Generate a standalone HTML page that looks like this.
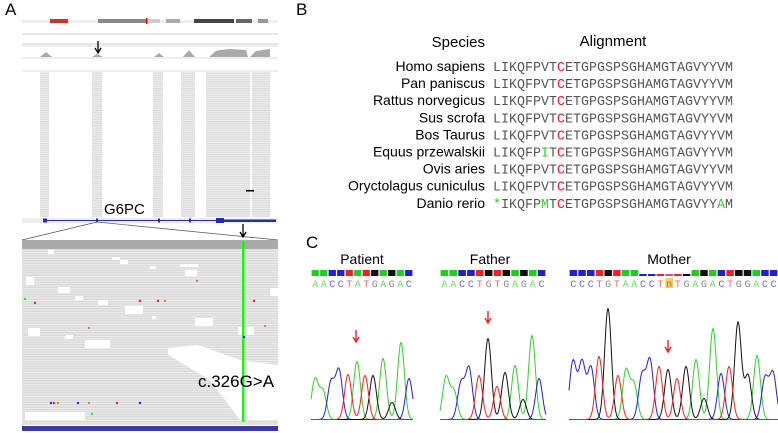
<!DOCTYPE html>
<html><head><meta charset="utf-8"><style>
html,body{margin:0;padding:0;background:#fff;}
svg{display:block;font-family:"Liberation Sans",Arial,sans-serif;}
</style></head><body>
<svg id="fig" width="778" height="433" viewBox="0 0 778 433" xmlns="http://www.w3.org/2000/svg">
<defs>
<pattern id="reads" width="4" height="2.2" patternUnits="userSpaceOnUse">
<rect width="4" height="2.2" fill="#eeeeee"/><rect width="4" height="1.1" fill="#dadada"/>
</pattern>
<pattern id="reads2" width="6" height="2.4" patternUnits="userSpaceOnUse">
<rect width="6" height="2.4" fill="#dadada"/><rect width="6" height="0.8" fill="#f0f0f0"/>
</pattern>
</defs>
<!-- Panel A -->
<text x="5" y="15" font-size="17">A</text>
<g>
<rect x="22" y="20" width="256" height="3" fill="#eee"/>
<rect x="50" y="19" width="18" height="4" fill="#c33"/>
<rect x="98" y="19" width="48" height="4" fill="#888"/>
<rect x="146" y="19" width="14" height="4" fill="#ccc"/>
<rect x="166" y="19" width="14" height="4" fill="#aaa"/>
<rect x="194" y="19" width="40" height="4" fill="#444"/>
<rect x="236" y="19" width="16" height="4" fill="#666"/>
<rect x="258" y="19" width="10" height="4" fill="#999"/>
<rect x="146" y="18" width="1.5" height="6" fill="#e00"/>
</g>
<g stroke="#999" stroke-width="0.6">
<line x1="22" y1="34" x2="278" y2="34"/>
<line x1="22" y1="44" x2="278" y2="44"/>
<line x1="22" y1="46" x2="278" y2="46" stroke="#bbb"/>
</g>
<g fill="#a9a9a9">
<path d="M40 57 L46 52 L52 57Z"/><path d="M92 57 L97 54 L103 57Z"/><path d="M154 57 L159 53 L164 57Z"/><path d="M183 57 L189 50 L195 57Z"/>
<path d="M209 57 L216 51 L220 50 L230 49 L246 50 L248 57Z"/><path d="M250 57 L256 51 L270 49 L270 57Z"/>
</g>
<line x1="22" y1="58" x2="278" y2="58" stroke="#ddd"/>
<line x1="22" y1="71" x2="278" y2="71" stroke="#ddd"/>
<path d="M98 41 L98 52 M95 48 L98 53 L101 48" stroke="#000" stroke-width="1.3" fill="none"/>
<g>
<rect x="40" y="72" width="9" height="145" fill="url(#reads)"/>
<rect x="92" y="72" width="10" height="145" fill="url(#reads)"/>
<rect x="153" y="72" width="10" height="145" fill="url(#reads)"/>
<rect x="181" y="72" width="14" height="145" fill="url(#reads)"/>
<rect x="206" y="72" width="44" height="145" fill="url(#reads)"/>
<rect x="252" y="72" width="18" height="145" fill="url(#reads)"/>
<rect x="246" y="190" width="8" height="1.5" fill="#000"/>
</g>
<text x="104" y="214" font-size="15">G6PC</text>
<g fill="#1f2fb0">
<rect x="22" y="218" width="256" height="5" fill="#eee"/>
<line x1="43" y1="220.5" x2="276" y2="220.5" stroke="#1f2fb0" stroke-width="1"/>
<rect x="43" y="218.5" width="4" height="4"/><rect x="96" y="218.5" width="2" height="4"/><rect x="158" y="218.5" width="2" height="4"/><rect x="189" y="218.5" width="2" height="4"/><rect x="216" y="218" width="8" height="5"/><rect x="224" y="219.5" width="52" height="2.5"/>
</g>
<path d="M97 222 L22 240 M97 222 L278 240" stroke="#555" stroke-width="0.7" fill="none"/>
<g>
<rect x="22" y="240" width="256" height="185" fill="url(#reads2)"/>
<rect x="22" y="240" width="256" height="9" fill="#aaa"/>
<g fill="#fff">
<rect x="48" y="250" width="6" height="4"/><rect x="112" y="257" width="8" height="3"/><rect x="120" y="260" width="8" height="4"/><rect x="180" y="264" width="18" height="3"/><rect x="150" y="266" width="6" height="3"/><rect x="185" y="270" width="12" height="6"/>
<rect x="26" y="277" width="8" height="8"/><rect x="58" y="287" width="12" height="6"/><rect x="75" y="296" width="8" height="4"/><rect x="98" y="300" width="10" height="5"/>
<rect x="125" y="306" width="18" height="8"/><rect x="152" y="316" width="4" height="3"/><rect x="195" y="318" width="18" height="8"/><rect x="270" y="288" width="8" height="8"/>
<rect x="28" y="328" width="12" height="8"/><rect x="65" y="335" width="8" height="4"/><rect x="85" y="340" width="25" height="8"/><rect x="238" y="327" width="16" height="8"/>
<path d="M168 348 L198 345 L240 360 L278 365 L278 420 L240 420 L210 380 L190 368 L168 355Z"/>
<rect x="25" y="412" width="60" height="8"/>
</g>
<rect x="242" y="241" width="2.5" height="184" fill="#2e2"/>
<g>
<circle cx="25" cy="299" r="1.2" fill="#2e2"/><circle cx="35" cy="303" r="1.2" fill="#e22"/><circle cx="140" cy="301" r="1.2" fill="#e22"/><circle cx="158" cy="301" r="1.2" fill="#e22"/><circle cx="165" cy="301" r="1.2" fill="#c84"/><circle cx="197" cy="281" r="1.2" fill="#c84"/><circle cx="254" cy="301" r="1.2" fill="#e22"/><circle cx="89" cy="328" r="1.2" fill="#c84"/><circle cx="265" cy="326" r="1.2" fill="#c84"/><circle cx="244" cy="337" r="1.2" fill="#22e"/>
<circle cx="51" cy="403" r="1.2" fill="#22e"/><circle cx="54" cy="403" r="1.2" fill="#e22"/><circle cx="58" cy="403" r="1.2" fill="#c84"/><circle cx="78" cy="403" r="1.2" fill="#22e"/><circle cx="89" cy="403" r="1.2" fill="#c84"/><circle cx="117" cy="403" r="1.2" fill="#e22"/><circle cx="140" cy="403" r="1.2" fill="#22e"/><circle cx="92" cy="414" r="1.2" fill="#2e2"/>
</g>
<rect x="22" y="422" width="256" height="3" fill="#e8e2d0"/>
<rect x="22" y="426" width="256" height="5" fill="#3a3aa0"/>
</g>
<path d="M243 224 L243 236 M240 232 L243 237 L246 232" stroke="#000" stroke-width="1.3" fill="none"/>
<text x="198" y="387" font-size="17">c.326G&gt;A</text>

<!-- Panel B -->
<text x="296" y="15" font-size="17">B</text>
<text x="485" y="47" font-size="15" text-anchor="end">Species</text>
<text x="613" y="46" font-size="15" text-anchor="middle">Alignment</text>
<g id="align"></g>

<!-- Panel C -->
<text x="306" y="248" font-size="17">C</text>
<text x="362" y="264" font-size="14" text-anchor="middle">Patient</text>
<text x="490" y="264" font-size="14" text-anchor="middle">Father</text>
<text x="669" y="264" font-size="14" text-anchor="middle">Mother</text>
<g id="chrom"></g>
</svg>
<script>
// Alignment data
const species = ["Homo sapiens","Pan paniscus","Rattus norvegicus","Sus scrofa","Bos Taurus","Equus przewalskii","Ovis aries","Oryctolagus cuniculus","Danio rerio"];
const sequences = ["LIKQFPVTCETGPGSPSGHAMGTAGVYYVM","LIKQFPVTCETGPGSPSGHAMGTAGVYYVM","LIKQFPVTCETGPGSPSGHAMGTAGVYYVM","LIKQFPVTCETGPGSPSGHAMGTAGVYYVM","LIKQFPVTCETGPGSPSGHAMGTAGVYYVM","LIKQFPITCETGPGSPSGHAMGTAGVYYVM","LIKQFPVTCETGPGSPSGHAMGTAGVYYVM","LIKQFPVTCETGPGSPSGHAMGTAGVYYVM","*IKQFPMTCETGPGSPSGHAMGTAGVYYAM"];
const NS="http://www.w3.org/2000/svg";
const ag=document.getElementById('align');
species.forEach((sp,i)=>{
  const y=71+i*17.1;
  const t=document.createElementNS(NS,'text');
  
  
  t.setAttribute('x',485);t.setAttribute('y',y);t.setAttribute('font-size','14');t.setAttribute('text-anchor','end');
  t.textContent=sp;ag.appendChild(t);
  const s=document.createElementNS(NS,'text');
  
  
  s.setAttribute('x',493);s.setAttribute('y',y);s.setAttribute('font-size','13.5');
  s.setAttribute('font-family','"Liberation Mono","DejaVu Sans Mono",monospace');
  s.setAttribute('textLength','240');s.setAttribute('lengthAdjust','spacingAndGlyphs');
  const ref=sequences[0];
  [...sequences[i]].forEach((c,j)=>{
    const ts=document.createElementNS(NS,'tspan');
    let col='#555';
    if(j===8) col='#e0201a'; else if(i>0 && c!==ref[j]) col='#3c3';
    ts.setAttribute('fill',col);ts.textContent=c;s.appendChild(ts);
  });
  ag.appendChild(s);
});

// Chromatogram data
const baseColors={A:'#2c2',C:'#22c',G:'#111',T:'#e22',n:'#c4c'};
const patientBases="AACCTATGAGAC";
const fatherBases="AACCTGTGAGAC";
const motherBases="CCCTGTAACCTnTGAGACTGGACC";
const patientPeakX=[315,323,331,339,348,357,365,373,383,392,401,409];
const patientPeakY=[380,392,383,371,375,362,376,376,359,403,343,379];
const patientPeakC=["A","A","C","C","T","A","T","G","A","G","A","C"];
const fatherPeakX=[446,454,461,469,479,488,497,505,515,523,532,539];
const fatherPeakY=[378,392,384,369,376,339,387,373,366,400,336,379];
const fatherPeakC=["A","A","C","C","T","G","T","G","A","G","A","C"];
const motherPeakX=[573,582,591,599,608,618,626,634,642,650,659,668,677,686,696,704,713,721,729,738,748,757,765,773];
const motherPeakY=[362,363,368,357,309,376,371,385,376,361,367,370,379,367,360,399,329,374,367,323,376,356,379,374];
const motherPeakC=["C","C","C","T","G","T","A","A","C","C","T","G","T","G","A","G","A","C","T","G","G","A","C","C"];
const arrowX=[356,488,668];
const arrowY=[342,323,352];

const cg=document.getElementById('chrom');
const BASE=420;
function drawPanel(name,bases,x0,x1,px,py,pc,ai){
  const n=bases.length, w=(x1-x0)/n;
  [...bases].forEach((b,i)=>{
    const r=document.createElementNS(NS,'rect');
    
    
    const small=(name==='mother'&&i>=8&&i<=13);
    r.setAttribute('x',x0+i*w+0.6);r.setAttribute('y',small?274:270);
    r.setAttribute('width',w-1.2);r.setAttribute('height',small?2:6);
    r.setAttribute('fill',baseColors[b]);cg.appendChild(r);
    if(b==='n'){const h=document.createElementNS(NS,'rect');
      
      
      h.setAttribute('x',x0+i*w+0.5);h.setAttribute('y',278);h.setAttribute('width',w-1);h.setAttribute('height',10);h.setAttribute('fill','#f5d442');cg.appendChild(h);}
    const t=document.createElementNS(NS,'text');
    
    
    t.setAttribute('x',x0+i*w+w/2);t.setAttribute('y',287);t.setAttribute('font-size','10');
    t.setAttribute('text-anchor','middle');t.setAttribute('font-family','"Liberation Mono",monospace');
    t.setAttribute('fill',b==='G'?'#888':(b==='n'?'#c4c':baseColors[b]));
    if(b==='A')t.setAttribute('fill','#6d6');if(b==='C')t.setAttribute('fill','#66d');if(b==='T')t.setAttribute('fill','#e66');
    t.textContent=b;cg.appendChild(t);
  });
  ['A','C','G','T'].forEach(c=>{
    let d='';
    for(let x=x0;x<=x1;x+=0.5){
      let y=0;
      px.forEach((p,k)=>{if(pc[k]===c){const h=BASE-py[k];y+=h*Math.exp(-((x-p)*(x-p))/(2*3.4*3.4));}});
      d+=(x===x0?'M':'L')+x.toFixed(1)+' '+(BASE-y-0.5).toFixed(1)+' ';
    }
    const p=document.createElementNS(NS,'path');
    
    
    p.setAttribute('d',d);p.setAttribute('fill','none');p.setAttribute('stroke',baseColors[c]==='#2c2'?'#3c3':baseColors[c]);
    p.setAttribute('stroke-width','1');cg.appendChild(p);
  });
  const a=document.createElementNS(NS,'path');
  
  
  const ax=arrowX[ai],ay=arrowY[ai];
  a.setAttribute('d',`M${ax} ${ay-12} L${ax} ${ay} M${ax-3} ${ay-5} L${ax} ${ay} L${ax+3} ${ay-5}`);
  a.setAttribute('stroke','#e22');a.setAttribute('stroke-width','1.4');a.setAttribute('fill','none');cg.appendChild(a);
}
drawPanel('patient',patientBases,311,413,patientPeakX,patientPeakY,patientPeakC,0);
drawPanel('father',fatherBases,440,546,fatherPeakX,fatherPeakY,fatherPeakC,1);
drawPanel('mother',motherBases,569,778,motherPeakX,motherPeakY,motherPeakC,2);
</script>
</body></html>
